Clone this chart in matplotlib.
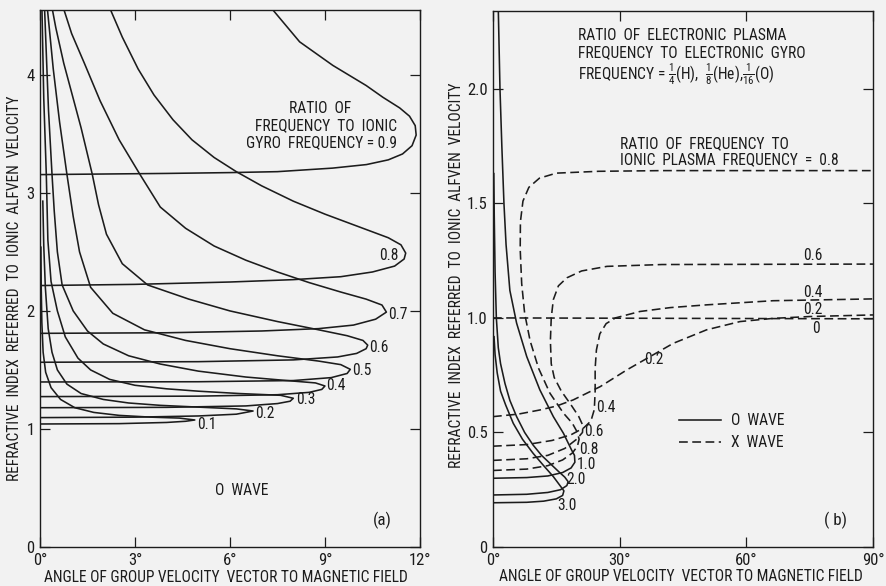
import matplotlib

matplotlib.use("Agg")
import matplotlib.pyplot as plt
from matplotlib import font_manager
from matplotlib.lines import Line2D

INK = "#1c1c1c"
PAPER = "#f2f2f2"


def pick_narrow_font():
    """Find a condensed sans face; the original lettering is tall and narrow."""
    for fam in ["Liberation Sans Narrow", "Roboto Condensed", "Open Sans Condensed",
                "Noto Sans Condensed", "DejaVu Sans Condensed"]:
        try:
            font_manager.findfont(font_manager.FontProperties(family=fam),
                                  fallback_to_default=False)
            return fam, "normal"
        except ValueError:
            pass
    for fam in ["Roboto", "Noto Sans", "Open Sans", "DejaVu Sans"]:
        try:
            path = font_manager.findfont(font_manager.FontProperties(family=fam, stretch="condensed"),
                                         fallback_to_default=False)
        except ValueError:
            continue
        if "ondensed" in path or "arrow" in path:
            return fam, "condensed"
    return None, "normal"


NARROW, STRETCH = pick_narrow_font()
if NARROW:
    plt.rcParams["font.family"] = [NARROW, "DejaVu Sans"]
    plt.rcParams["font.stretch"] = STRETCH
    FS = 11.2
else:
    NARROW = "Liberation Sans"
    plt.rcParams["font.family"] = ["Liberation Sans", "DejaVu Sans"]
    FS = 9.4
plt.rcParams["mathtext.fontset"] = "custom"
plt.rcParams["mathtext.rm"] = NARROW

# ---- panel (a): O wave, ratio of frequency to ionic gyro frequency ----
# each curve: lower branch from 0 deg out to the nose, then the upper branch back
A_CURVES = {
    "0.1": [(0, 1.042), (2.5, 1.045), (4.0, 1.055), (4.6, 1.065), (4.89, 1.076), (4.4, 1.092),
            (3.5, 1.10), (2.5, 1.115), (1.7, 1.14), (1.1, 1.18), (0.65, 1.25), (0.35, 1.35),
            (0.18, 1.48), (0.1, 1.65), (0.06, 1.9), (0.04, 2.2), (0.03, 2.54)],
    "0.2": [(0, 1.096), (3, 1.10), (5, 1.11), (6.2, 1.125), (6.73, 1.152), (6.2, 1.17),
            (5.0, 1.185), (3.8, 1.20), (2.8, 1.22), (2.0, 1.25), (1.3, 1.30), (0.85, 1.38),
            (0.55, 1.5), (0.38, 1.65), (0.26, 1.85), (0.17, 2.2), (0.12, 2.55), (0.09, 2.93)],
    "0.3": [(0, 1.18), (4, 1.183), (6.5, 1.195), (7.5, 1.215), (7.9, 1.235), (8.0, 1.26),
            (7.6, 1.285), (6.3, 1.30), (5.0, 1.32), (4.0, 1.34), (3.0, 1.37), (2.2, 1.42),
            (1.6, 1.5), (1.2, 1.6), (0.8, 1.78), (0.55, 2.0), (0.35, 2.25), (0.25, 2.6),
            (0.2, 3.16), (0.12, 3.8), (0.06, 4.6)],
    "0.4": [(0, 1.274), (5, 1.278), (7.5, 1.29), (8.5, 1.31), (8.9, 1.335), (9.0, 1.364),
            (8.7, 1.39), (7.8, 1.41), (6.5, 1.44), (5.0, 1.49), (3.8, 1.55), (2.8, 1.62),
            (2.0, 1.72), (1.5, 1.83), (1.05, 2.0), (0.7, 2.22), (0.55, 2.5), (0.45, 2.85),
            (0.38, 3.16), (0.27, 3.7), (0.14, 4.6)],
    "0.5": [(0, 1.398), (5, 1.40), (8, 1.41), (9.2, 1.435), (9.7, 1.47), (9.8, 1.505),
            (9.5, 1.545), (8.8, 1.575), (7.5, 1.62), (6.0, 1.68), (4.6, 1.75), (3.3, 1.84),
            (2.3, 1.98), (1.6, 2.2), (1.25, 2.5), (1.05, 2.8), (0.85, 3.16), (0.62, 3.6),
            (0.42, 4.05), (0.22, 4.6)],
    "0.6": [(0, 1.565), (5, 1.57), (8, 1.585), (9.4, 1.61), (10.0, 1.64), (10.3, 1.68),
            (10.35, 1.71), (10.2, 1.75), (9.7, 1.79), (8.8, 1.84), (7.5, 1.91), (6.0, 2.0),
            (4.7, 2.1), (3.4, 2.22), (2.6, 2.4), (2.1, 2.65), (1.85, 2.9), (1.65, 3.16),
            (1.3, 3.55), (1.0, 3.85), (0.75, 4.1), (0.5, 4.4), (0.36, 4.6)],
    "0.7": [(0, 1.81), (4, 1.815), (7, 1.83), (8.8, 1.85), (9.9, 1.88), (10.6, 1.93),
            (10.94, 1.99), (10.8, 2.05), (10.3, 2.10), (9.5, 2.16), (8.5, 2.24), (7.5, 2.33),
            (6.5, 2.43), (5.5, 2.55), (4.6, 2.70), (3.8, 2.88), (3.15, 3.16), (2.5, 3.45),
            (1.9, 3.78), (1.4, 4.1), (1.0, 4.35), (0.7, 4.6)],
    "0.8": [(0, 2.215), (3, 2.225), (6, 2.245), (8, 2.265), (9.5, 2.29), (10.5, 2.33),
            (11.2, 2.38), (11.5, 2.44), (11.55, 2.49), (11.4, 2.56), (11.0, 2.62), (10.0, 2.72),
            (9.0, 2.82), (8.0, 2.93), (7.0, 3.06), (6.2, 3.18), (5.5, 3.30), (4.8, 3.45),
            (4.2, 3.62), (3.6, 3.83), (3.1, 4.05), (2.6, 4.32), (2.15, 4.6)],
    "0.9": [(0, 3.155), (2, 3.16), (4, 3.165), (6, 3.172), (7.5, 3.18), (9.24, 3.21),
            (10.31, 3.24), (11.0, 3.28), (11.45, 3.33), (11.75, 3.40), (11.88, 3.49),
            (11.85, 3.57), (11.67, 3.65), (11.36, 3.72), (10.83, 3.81), (10.3, 3.91),
            (9.25, 4.08), (8.2, 4.28), (7.2, 4.6)],
}
A_LABEL_POS = {"0.1": (4.95, 1.034), "0.2": (6.78, 1.133), "0.3": (8.1, 1.246),
               "0.4": (9.04, 1.364), "0.5": (9.86, 1.494), "0.6": (10.4, 1.692),
               "0.7": (10.98, 1.97), "0.8": (10.7, 2.466)}
A_XTICKS = [0, 3, 6, 9, 12]
A_YTICKS = [0, 1, 2, 3, 4]

# ---- panel (b): O and X waves, ratio of frequency to ionic plasma frequency ----
B_X_WAVE = {
    "0.8": [(0, 0.334), (8, 0.34), (13, 0.355), (16.5, 0.38), (18.8, 0.41), (20.0, 0.44),
            (20.4, 0.47), (20.0, 0.50), (18.8, 0.54), (16.7, 0.584), (13.5, 0.671),
            (10.8, 0.78), (8.8, 0.90), (7.5, 1.02), (6.8, 1.15), (6.45, 1.30), (6.5, 1.42),
            (7.1, 1.51), (8.5, 1.57), (11, 1.61), (15, 1.632), (25, 1.640), (40, 1.643),
            (90, 1.643)],
    "0.6": [(0, 0.378), (8, 0.385), (13, 0.40), (17, 0.43), (19.8, 0.47), (21.2, 0.50),
            (21.3, 0.53), (20.3, 0.57), (18.5, 0.62), (16.2, 0.68), (14.5, 0.74), (13.8, 0.80),
            (13.6, 0.90), (13.8, 1.00), (14.3, 1.08), (15.5, 1.14), (17.5, 1.175), (21, 1.205),
            (27, 1.225), (40, 1.233), (90, 1.235)],
    "0.4": [(0, 0.44), (8, 0.447), (14, 0.465), (18.5, 0.49), (21.5, 0.52), (23.2, 0.55),
            (24.0, 0.60), (24.2, 0.68), (24.2, 0.78), (24.5, 0.86), (25.3, 0.93), (26.8, 0.975),
            (29, 1.0), (34.8, 1.028), (42, 1.045), (50.6, 1.057), (66.3, 1.075), (90, 1.083)],
    "0.2": [(0, 0.569), (6, 0.58), (11.1, 0.598), (15, 0.615), (19, 0.642), (25.4, 0.70),
            (31.7, 0.773), (37.2, 0.831), (42.7, 0.889), (50.6, 0.948), (58.5, 0.984),
            (66.4, 0.998), (75, 1.006), (90, 1.013)],
    "0": [(0, 1.0), (90, 0.996)],
}
B_O_WAVE = {
    "1.0": [(0, 0.30), (8, 0.303), (13, 0.31), (16.5, 0.325), (18.5, 0.345), (19.4, 0.37),
            (19.3, 0.40), (18.6, 0.424), (16.7, 0.496), (14.3, 0.569), (11.1, 0.686),
            (8.0, 0.831), (5.6, 0.977), (4.0, 1.12), (3.1, 1.32), (2.6, 1.5), (2.1, 1.75),
            (1.66, 2.0), (1.2, 2.4)],
    "2.0": [(0, 0.227), (8, 0.23), (13, 0.238), (16, 0.25), (17.5, 0.268), (17.8, 0.285),
            (17.0, 0.305), (15.5, 0.33), (13.5, 0.365), (11.5, 0.40), (9.5, 0.445), (7.5, 0.50),
            (5.6, 0.569), (4.0, 0.64), (2.84, 0.714), (1.8, 0.80), (1.26, 0.87), (0.8, 1.0),
            (0.5, 1.2), (0.3, 1.45), (0.2, 1.63)],
    "3.0": [(0, 0.193), (8, 0.195), (12, 0.20), (15, 0.21), (16.5, 0.225), (16.8, 0.245),
            (16.0, 0.265), (14.3, 0.307), (12, 0.355), (9.5, 0.409), (7, 0.47), (4.8, 0.54),
            (3.0, 0.62), (1.8, 0.68), (1.0, 0.76), (0.5, 0.84), (0.25, 0.918)],
}
B_LABEL_POS = {"0.4": (24.4, 0.607), "0.6": (21.6, 0.504), "0.8": (20.4, 0.424),
               "1.0": (19.8, 0.358), "2.0": (17.3, 0.293), "3.0": (15.2, 0.183)}
B_RIGHT_LABELS = [("0.6", 73.5, 1.271), ("0.4", 73.5, 1.11), ("0.2", 73.5, 1.038),
                  ("0", 75.5, 0.955), ("0.2", 35.8, 0.817)]
B_XTICKS = [0, 30, 60, 90]
B_YTICKS = [0, 0.5, 1.0, 1.5, 2.0]

DASH = (0, (5.5, 2.8))
LW = 1.15


def style_axes(ax, xticks, xlabels, yticks, ylabels):
    ax.set_facecolor(PAPER)
    for side in ax.spines.values():
        side.set_linewidth(1.0)
        side.set_color(INK)
    ax.set_xticks(xticks, xlabels)
    ax.set_yticks(yticks, ylabels)
    ax.tick_params(direction="in", length=7, width=0.9, color=INK, labelsize=FS + 0.8,
                   labelcolor=INK, top=True, right=True)
    ax.tick_params(axis="x", pad=4)
    ax.tick_params(axis="y", pad=4)


def draw_curve(ax, pts, **kw):
    xs, ys = zip(*pts)
    ax.plot(xs, ys, color=INK, lw=LW, solid_joinstyle="round", **kw)


fig = plt.figure(figsize=(8.86, 5.86), dpi=100, facecolor=PAPER)
ax_a = fig.add_axes([0.0451, 0.0666, 0.4289, 0.9164])
ax_b = fig.add_axes([0.5564, 0.0666, 0.4289, 0.9147])

# panel (a)
for key, pts in A_CURVES.items():
    draw_curve(ax_a, pts)
for key, (x, y) in A_LABEL_POS.items():
    ax_a.text(x, y, key, fontsize=FS, color=INK, ha="left", va="center")
ax_a.set_xlim(0, 12)
ax_a.set_ylim(0, 4.55)
style_axes(ax_a, A_XTICKS, [f"{t}°" for t in A_XTICKS], A_YTICKS, [str(t) for t in A_YTICKS])
ax_a.text(8.86, 3.718, "RATIO  OF", fontsize=FS, color=INK, ha="center", va="center")
ax_a.text(11.29, 3.568, "FREQUENCY  TO  IONIC", fontsize=FS, color=INK, ha="right", va="center")
ax_a.text(11.29, 3.426, "GYRO  FREQUENCY = 0.9", fontsize=FS, color=INK, ha="right", va="center")
ax_a.text(6.36, 0.477, "O  WAVE", fontsize=FS, color=INK, ha="center", va="center")
ax_a.text(10.8, 0.229, "(a)", fontsize=FS + 1, color=INK, ha="center", va="center")
ax_a.set_xlabel("ANGLE OF GROUP VELOCITY  VECTOR TO MAGNETIC FIELD", fontsize=FS, color=INK)
ax_a.set_ylabel("REFRACTIVE  INDEX  REFERRED  TO  IONIC  ALFVEN  VELOCITY", fontsize=FS,
                color=INK)
ax_a.xaxis.set_label_coords(0.489, -0.042)
ax_a.yaxis.set_label_coords(-0.047, 0.482)

# panel (b)
for key, pts in B_X_WAVE.items():
    draw_curve(ax_b, pts, ls=DASH)
for key, pts in B_O_WAVE.items():
    draw_curve(ax_b, pts)
for key, (x, y) in B_LABEL_POS.items():
    ax_b.text(x, y, key, fontsize=FS, color=INK, ha="left", va="center")
for text, x, y in B_RIGHT_LABELS:
    ax_b.text(x, y, text, fontsize=FS, color=INK, ha="left", va="center")
ax_b.set_xlim(0, 90)
ax_b.set_ylim(0, 2.34)
style_axes(ax_b, B_XTICKS, [f"{t}°" for t in B_XTICKS], B_YTICKS,
           ["0", "0.5", "1.0", "1.5", "2.0"])
ax_b.text(20.2, 2.232, "RATIO  OF  ELECTRONIC  PLASMA", fontsize=FS, color=INK, va="center")
ax_b.text(20.2, 2.158, "FREQUENCY  TO  ELECTRONIC  GYRO", fontsize=FS, color=INK, va="center")
ax_b.text(20.2, 2.066, r"FREQUENCY = $\frac{1}{4}$(H),  $\frac{1}{8}$(He),$\frac{1}{16}$(O)",
          fontsize=FS, color=INK, va="center")
ax_b.text(30.1, 1.762, "RATIO  OF  FREQUENCY  TO", fontsize=FS, color=INK, va="center")
ax_b.text(30.1, 1.69, "IONIC  PLASMA  FREQUENCY  =  0.8", fontsize=FS, color=INK, va="center")
ax_b.text(81.2, 0.118, "( b)", fontsize=FS + 1, color=INK, ha="center", va="center")
handles = [Line2D([], [], color=INK, lw=LW), Line2D([], [], color=INK, lw=LW, ls=DASH)]
ax_b.legend(handles, ["O  WAVE", "X  WAVE"], loc="center left", bbox_to_anchor=(0.49, 0.215),
            frameon=False, fontsize=FS, handlelength=2.7, handletextpad=0.6, labelspacing=0.45,
            borderpad=0, borderaxespad=0, labelcolor=INK)
ax_b.set_xlabel("ANGLE OF GROUP VELOCITY  VECTOR TO MAGNETIC FIELD", fontsize=FS, color=INK)
ax_b.set_ylabel("REFRACTIVE  INDEX  REFERRED  TO  IONIC  ALFVEN  VELOCITY", fontsize=FS,
                color=INK)
ax_b.xaxis.set_label_coords(0.495, -0.042)
ax_b.yaxis.set_label_coords(-0.076, 0.507)

fig.savefig("out.png", dpi=100, facecolor=PAPER)
